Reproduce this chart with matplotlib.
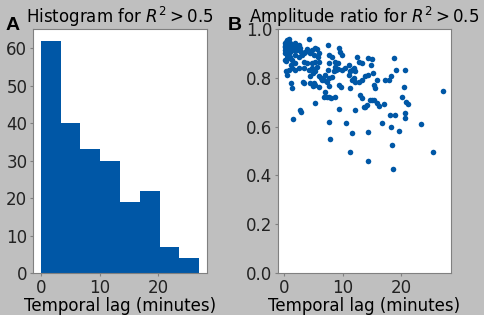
import numpy as np
import matplotlib

matplotlib.use("Agg")
import matplotlib.pyplot as plt

# histogram of temporal lags (R^2 > 0.5)
bin_edges = [0.0, 3.37, 6.74, 10.11, 13.48, 16.85, 20.22, 23.59, 26.96]
bin_counts = [62, 40, 33, 30, 19, 22, 7, 4]

# amplitude ratio vs temporal lag
lag = [
    0.46, 0.75, 0.18, 1.03, 0.46, 0.06, 0.75, 1.32, 1.89, 2.46, 0.18, 1.03, 1.60, 2.17,
    0.46, 0.06, 1.03, 1.32, 1.89, 2.46, 3.03, 3.31, 2.74, 4.17, 3.60, 3.88, 4.74, 5.19,
    5.59, 5.87, 5.76, 5.02, 4.45, 3.31, 3.88, 4.74, 5.30, 5.87, 5.59, 4.74, 4.17, 3.31,
    2.46, 1.89, 1.32, 0.75, 0.29, 0.46, 1.20, 1.89, 7.47, 7.70, 8.15, 8.72, 9.29, 9.58,
    9.86, 9.12, 8.72, 8.89, 8.44, 7.70, 7.47, 7.01, 6.33, 6.73, 5.87, 5.30, 4.85, 4.45,
    7.30, 7.70, 8.15, 9.12, 9.86, 10.43, 11.00, 11.29, 11.12, 11.57, 11.86, 12.03, 12.43,
    12.71, 13.28, 11.86, 12.14, 1.20, 1.32, 3.14, 3.42, 4.45, 5.02, 4.85, 5.30, 5.99,
    7.01, 6.44, 7.58, 6.73, 7.30, 7.70, 8.04, 8.61, 9.64, 9.29, 11.29, 11.57, 12.82,
    13.28, 13.85, 14.31, 14.31, 14.99, 14.76, 15.10, 15.56, 15.28, 15.84, 14.99, 13.00,
    13.28, 13.85, 14.14, 14.71, 15.28, 15.84, 16.13, 12.14, 13.57, 9.41, 5.19, 2.91,
    2.74, 1.54, 7.70, 10.55, 11.57, 14.31, 16.70, 16.99, 17.16, 17.84, 18.29, 18.69,
    19.15, 20.40, 20.69, 20.12, 20.80, 21.14, 20.69, 20.57, 19.55, 18.29, 18.12, 18.86,
    23.42, 18.41, 27.13, 7.75, 11.29, 14.25, 18.52, 25.36,
    0.30, 0.60, 0.90, 0.20, 0.55, 1.10, 0.35, 0.80, 2.00, 2.80, 0.10, 0.65,
]
ratio = [
    0.955, 0.958, 0.941, 0.944, 0.928, 0.914, 0.921, 0.928, 0.941, 0.934, 0.900, 0.907,
    0.914, 0.914, 0.880, 0.873, 0.887, 0.873, 0.893, 0.887, 0.893, 0.900, 0.921, 0.958,
    0.907, 0.917, 0.914, 0.921, 0.917, 0.900, 0.884, 0.893, 0.900, 0.866, 0.859, 0.859,
    0.866, 0.866, 0.846, 0.839, 0.833, 0.839, 0.839, 0.833, 0.839, 0.833, 0.826, 0.811,
    0.852, 0.859, 0.934, 0.893, 0.887, 0.866, 0.921, 0.907, 0.893, 0.862, 0.846, 0.833,
    0.826, 0.859, 0.833, 0.811, 0.798, 0.791, 0.806, 0.826, 0.820, 0.806, 0.784, 0.798,
    0.802, 0.835, 0.833, 0.839, 0.852, 0.826, 0.811, 0.833, 0.839, 0.826, 0.887, 0.866,
    0.859, 0.798, 0.784, 0.777, 0.757, 0.784, 0.780, 0.777, 0.780, 0.766, 0.770, 0.761,
    0.743, 0.791, 0.766, 0.723, 0.723, 0.720, 0.716, 0.723, 0.764, 0.770, 0.757, 0.791,
    0.784, 0.791, 0.806, 0.811, 0.880, 0.876, 0.852, 0.821, 0.757, 0.770, 0.791, 0.709,
    0.730, 0.716, 0.682, 0.689, 0.709, 0.709, 0.695, 0.684, 0.669, 0.679, 0.671, 0.698,
    0.661, 0.669, 0.630, 0.620, 0.616, 0.575, 0.577, 0.616, 0.693, 0.791, 0.791, 0.807,
    0.880, 0.833, 0.761, 0.833, 0.723, 0.702, 0.693, 0.657, 0.634, 0.583, 0.600, 0.648,
    0.648, 0.611, 0.525, 0.746, 0.548, 0.497, 0.459, 0.425, 0.497,
    0.948, 0.935, 0.910, 0.925, 0.895, 0.930, 0.868, 0.905, 0.925, 0.905, 0.930, 0.880,
]

BLUE = "#0057a6"
BG = "#bfbfbf"

fig = plt.figure(figsize=(4.84, 3.15), dpi=100, facecolor=BG)
ax1 = fig.add_axes([0.068, 0.133, 0.360, 0.775])
ax2 = fig.add_axes([0.574, 0.133, 0.358, 0.775])

edges = np.array(bin_edges)
ax1.bar(edges[:-1], bin_counts, width=np.diff(edges), align="edge", color=BLUE)
ax1.set_xlim(-1.35, 28.3)
ax1.set_yticks([0, 10, 20, 30, 40, 50, 60])
ax1.set_title(r"Histogram for $R^2 > 0.5$", fontsize=12, pad=4)
ax1.set_xlabel("Temporal lag (minutes)", fontsize=12, labelpad=0)

ax2.scatter(lag, ratio, s=16, color=BLUE, linewidths=0)
ax2.set_ylim(0, 1.0)
ax2.set_xlim(-1.1, 28.5)
ax2.set_xticks([0, 10, 20])
ax2.set_yticks([0.0, 0.2, 0.4, 0.6, 0.8, 1.0])
ax2.set_title(r"Amplitude ratio for $R^2 > 0.5$", fontsize=12, pad=4)
ax2.set_xlabel("Temporal lag (minutes)", fontsize=12, labelpad=0)

for ax in (ax1, ax2):
    ax.set_facecolor("white")
    for sp in ax.spines.values():
        sp.set_color("#808080")
    ax.tick_params(labelsize=12, colors="#808080", labelcolor="#222222",
                   length=2.5, pad=1.5)

fig.text(0.012, 0.905, "A", fontsize=14, fontweight="bold", family="Liberation Sans")
fig.text(0.470, 0.905, "B", fontsize=14, fontweight="bold", family="Liberation Sans")

fig.savefig("out.png", dpi=100, facecolor=BG)
